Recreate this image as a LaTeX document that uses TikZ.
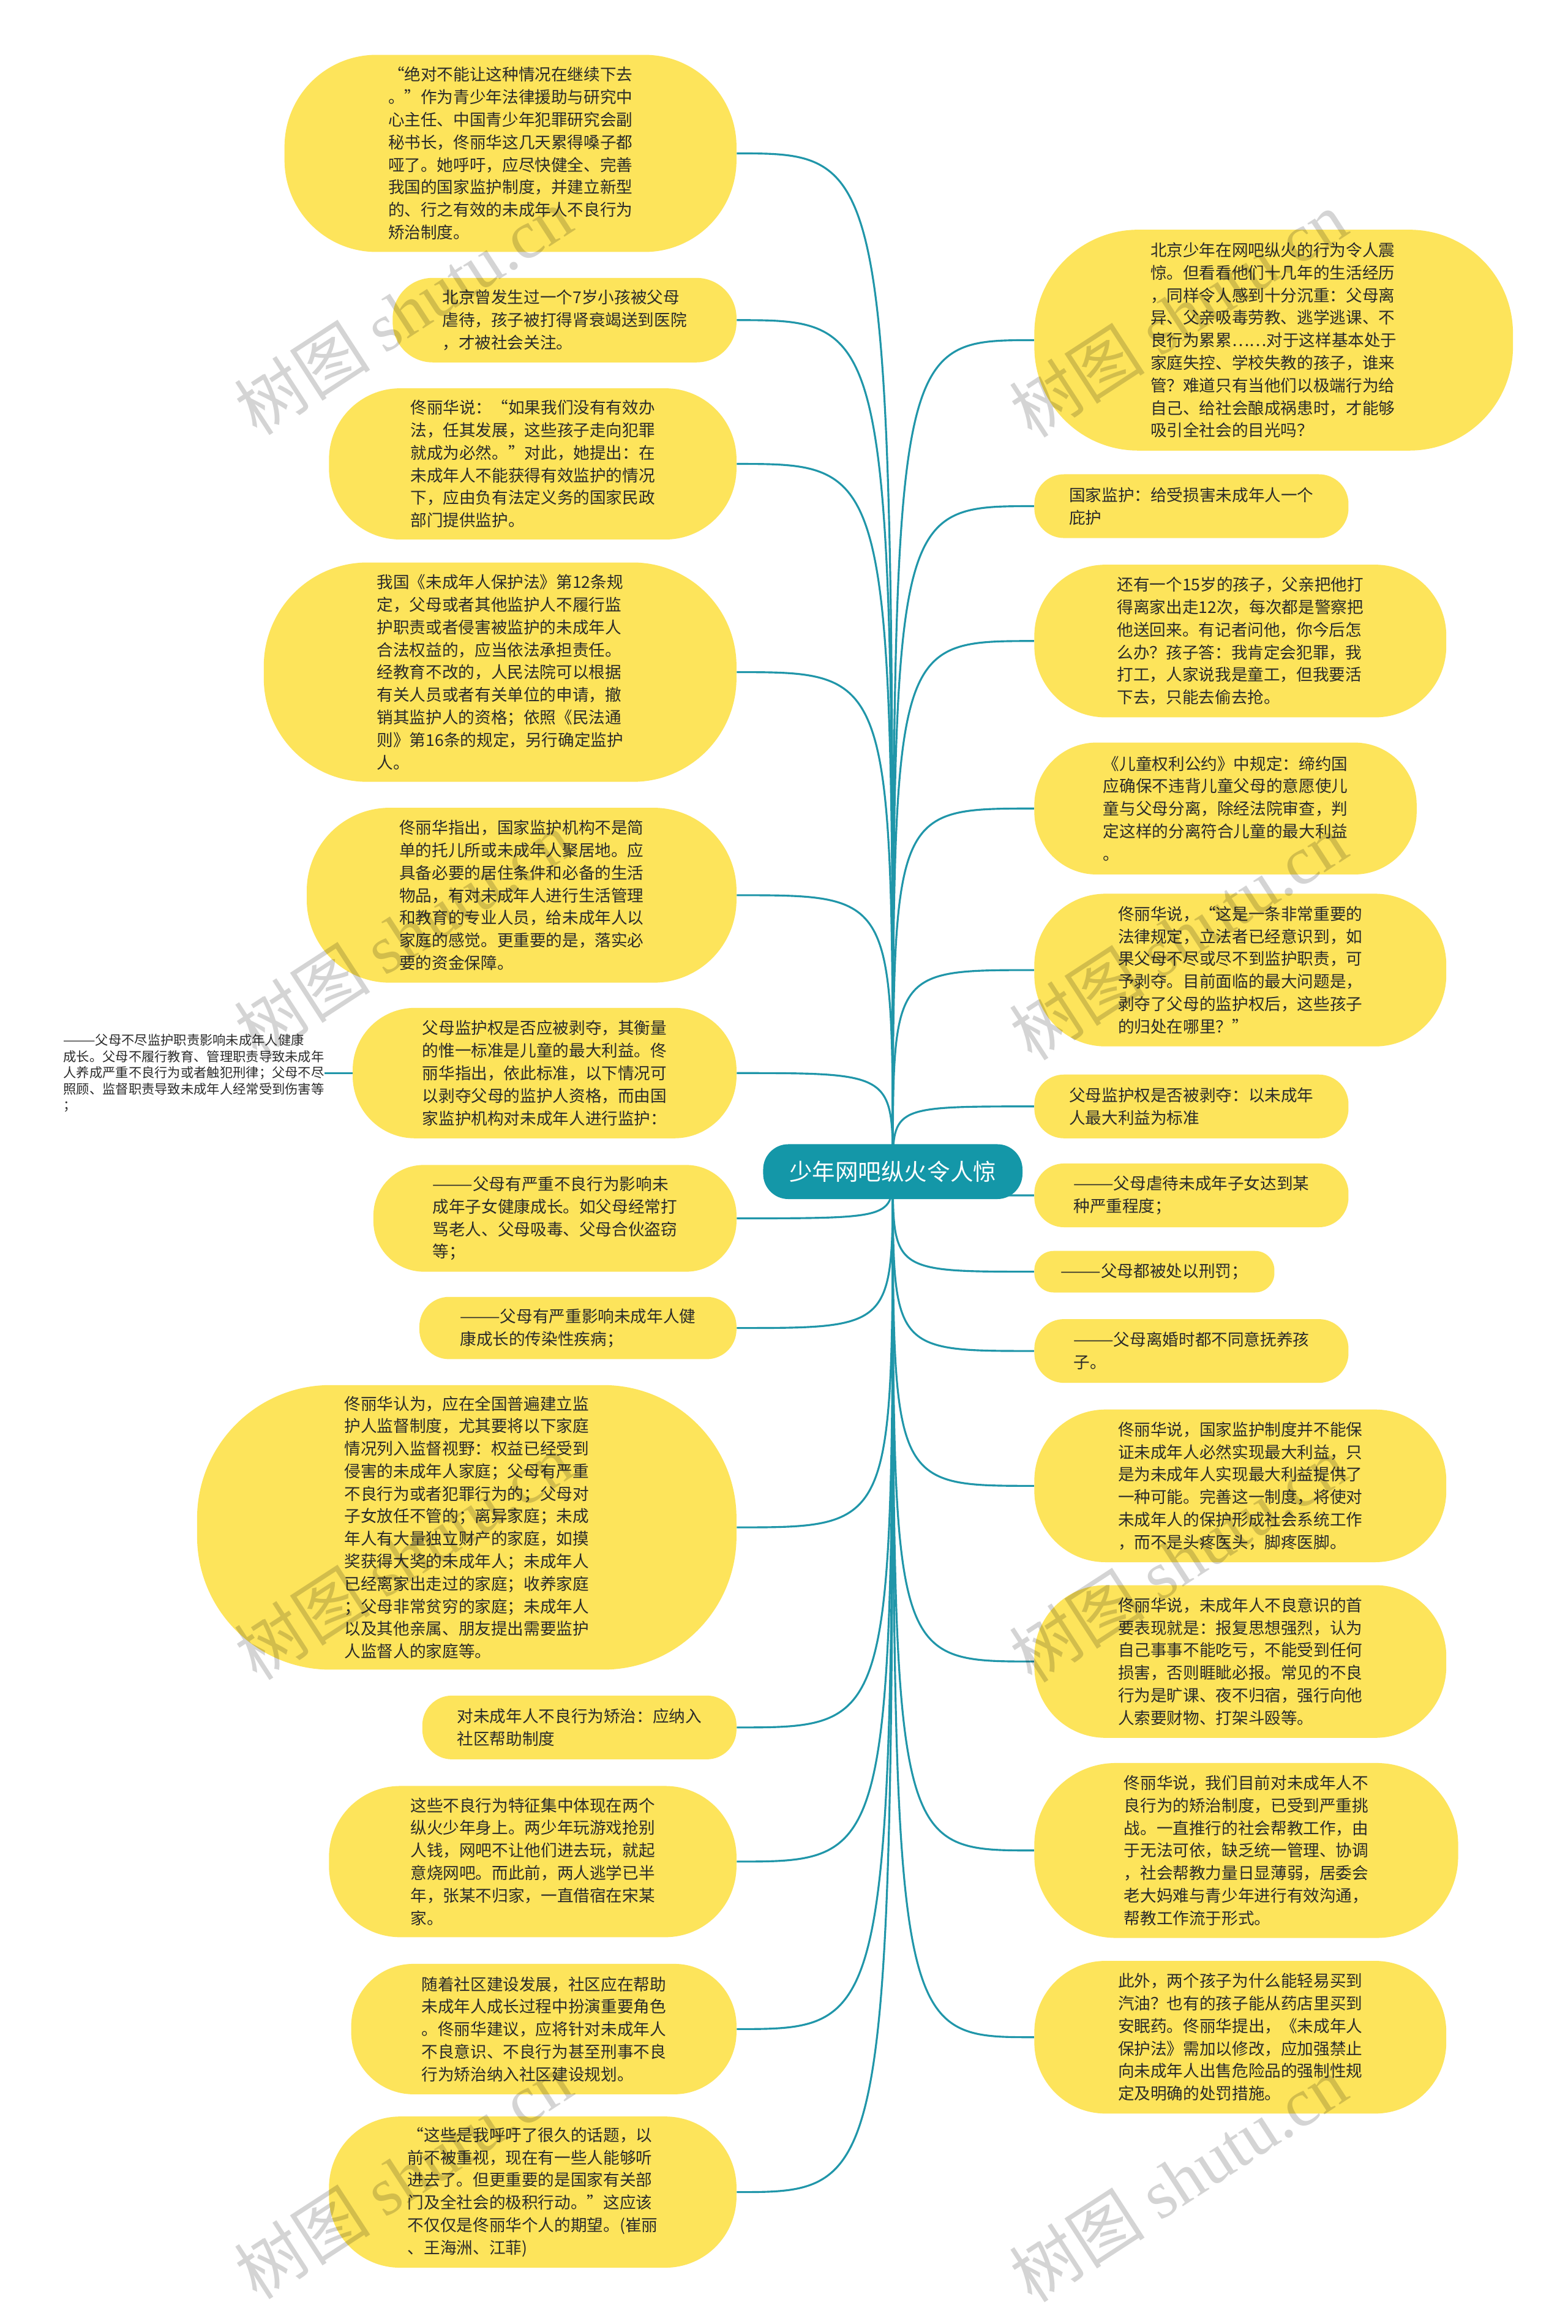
\documentclass[tikz,border=0pt]{standalone}
\usepackage{fontspec}
\setmainfont{Noto Sans CJK SC}
\newfontfamily\wmlatin{Liberation Serif}
\usetikzlibrary{backgrounds}
\definecolor{leafyellow}{HTML}{FDE45B}
\definecolor{mapteal}{HTML}{1497A8}
\definecolor{linkteal}{HTML}{2096A9}
\definecolor{txtdark}{HTML}{2A2A2A}
\tikzset{
  leaf/.style={fill=leafyellow, draw=none, inner sep=0pt, align=left, text=txtdark,
    font=\fontsize{11}{15.2}\selectfont},
  root/.style={fill=mapteal, draw=none, text=white, inner sep=0pt, rounded corners=17,
    font=\fontsize{15.5}{18}\selectfont},
  link/.style={draw=linkteal, line width=1.3pt},
  note/.style={inner sep=0pt, align=left, text=txtdark, font=\fontsize{8.8}{11}\selectfont},
  wmark/.style={text=black, opacity=0.17, rotate=33, inner sep=0pt, font=\fontsize{46}{46}\selectfont}
}
\newcommand{\leafnode}[7]{\node[leaf, minimum width=#4, minimum height=#5, rounded corners=#6] (#1) at (#2,#3) {#7};}
\begin{document}
\begin{tikzpicture}[x=1pt,y=-1pt]
\useasboundingbox (0,0) rectangle (1058,1568);
% root
\node[root, minimum width=175, minimum height=37] (C) at (602.5,790.5) {少年网吧纵火令人惊};
% left column
\leafnode{L1}{344.5}{103.5}{305}{133}{62}{“绝对不能让这种情况在继续下去\\。”作为青少年法律援助与研究中\\心主任、中国青少年犯罪研究会副\\秘书长，佟丽华这几天累得嗓子都\\哑了。她呼吁，应尽快健全、完善\\我国的国家监护制度，并建立新型\\的、行之有效的未成年人不良行为\\矫治制度。}
\leafnode{L2}{381}{216}{232}{57}{27}{北京曾发生过一个7岁小孩被父母\\虐待，孩子被打得肾衰竭送到医院\\，才被社会关注。}
\leafnode{L3}{359.5}{313}{275}{102}{48}{佟丽华说：“如果我们没有有效办\\法，任其发展，这些孩子走向犯罪\\就成为必然。”对此，她提出：在\\未成年人不能获得有效监护的情况\\下，应由负有法定义务的国家民政\\部门提供监护。}
\leafnode{L4}{337.5}{453.5}{319}{148}{70}{我国《未成年人保护法》第12条规\\定，父母或者其他监护人不履行监\\护职责或者侵害被监护的未成年人\\合法权益的，应当依法承担责任。\\经教育不改的，人民法院可以根据\\有关人员或者有关单位的申请，撤\\销其监护人的资格；依照《民法通\\则》第16条的规定，另行确定监护\\人。}
\leafnode{L5}{352}{604}{290}{118}{56}{佟丽华指出，国家监护机构不是简\\单的托儿所或未成年人聚居地。应\\具备必要的居住条件和必备的生活\\物品，有对未成年人进行生活管理\\和教育的专业人员，给未成年人以\\家庭的感觉。更重要的是，落实必\\要的资金保障。}
\leafnode{L6}{367.5}{724}{259}{88}{42}{父母监护权是否应被剥夺，其衡量\\的惟一标准是儿童的最大利益。佟\\丽华指出，依此标准，以下情况可\\以剥夺父母的监护人资格，而由国\\家监护机构对未成年人进行监护：}
\leafnode{L7}{374.5}{822}{245}{72}{34}{———父母有严重不良行为影响未\\成年子女健康成长。如父母经常打\\骂老人、父母吸毒、父母合伙盗窃\\等；}
\leafnode{L8}{390}{896}{214}{42}{20}{———父母有严重影响未成年人健\\康成长的传染性疾病；}
\leafnode{L9}{315}{1030.5}{364}{192}{90}{佟丽华认为，应在全国普遍建立监\\护人监督制度，尤其要将以下家庭\\情况列入监督视野：权益已经受到\\侵害的未成年人家庭；父母有严重\\不良行为或者犯罪行为的；父母对\\子女放任不管的；离异家庭；未成\\年人有大量独立财产的家庭，如摸\\奖获得大奖的未成年人；未成年人\\已经离家出走过的家庭；收养家庭\\；父母非常贫穷的家庭；未成年人\\以及其他亲属、朋友提出需要监护\\人监督人的家庭等。}
\leafnode{L10}{391}{1165.5}{212}{43}{20}{对未成年人不良行为矫治：应纳入\\社区帮助制度}
\leafnode{L11}{359.5}{1256}{275}{102}{48}{这些不良行为特征集中体现在两个\\纵火少年身上。两少年玩游戏抢别\\人钱，网吧不让他们进去玩，就起\\意烧网吧。而此前，两人逃学已半\\年，张某不归家，一直借宿在宋某\\家。}
\leafnode{L12}{367}{1369}{260}{88}{42}{随着社区建设发展，社区应在帮助\\未成年人成长过程中扮演重要角色\\。佟丽华建议，应将针对未成年人\\不良意识、不良行为甚至刑事不良\\行为矫治纳入社区建设规划。}
\leafnode{L13}{359.5}{1479}{275}{102}{48}{“这些是我呼吁了很久的话题，以\\前不被重视，现在有一些人能够听\\进去了。但更重要的是国家有关部\\门及全社会的极积行动。”这应该\\不仅仅是佟丽华个人的期望。(崔丽\\、王海洲、江菲)}
% far-left note
\node[note, anchor=east] (T) at (219,724) {———父母不尽监护职责影响未成年人健康\\成长。父母不履行教育、管理职责导致未成年\\人养成严重不良行为或者触犯刑律；父母不尽\\照顾、监督职责导致未成年人经常受到伤害等\\；};
% right column
\leafnode{R1}{859.5}{229.5}{323}{149}{70}{北京少年在网吧纵火的行为令人震\\惊。但看看他们十几年的生活经历\\，同样令人感到十分沉重：父母离\\异、父亲吸毒劳教、逃学逃课、不\\良行为累累……对于这样基本处于\\家庭失控、学校失教的孩子，谁来\\管？难道只有当他们以极端行为给\\自己、给社会酿成祸患时，才能够\\吸引全社会的目光吗？}
\leafnode{R2}{804}{341.5}{212}{43}{20}{国家监护：给受损害未成年人一个\\庇护}
\leafnode{R3}{837}{432.5}{278}{103}{48}{还有一个15岁的孩子，父亲把他打\\得离家出走12次，每次都是警察把\\他送回来。有记者问他，你今后怎\\么办？孩子答：我肯定会犯罪，我\\打工，人家说我是童工，但我要活\\下去，只能去偷去抢。}
\leafnode{R4}{827}{545.5}{258}{89}{42}{《儿童权利公约》中规定：缔约国\\应确保不违背儿童父母的意愿使儿\\童与父母分离，除经法院审查，判\\定这样的分离符合儿童的最大利益\\。}
\leafnode{R5}{837}{654.5}{278}{103}{48}{佟丽华说，“这是一条非常重要的\\法律规定，立法者已经意识到，如\\果父母不尽或尽不到监护职责，可\\予剥夺。目前面临的最大问题是，\\剥夺了父母的监护权后，这些孩子\\的归处在哪里？”}
\leafnode{R6}{804}{746.5}{212}{43}{20}{父母监护权是否被剥夺：以未成年\\人最大利益为标准}
\leafnode{R7}{804}{806.5}{212}{43}{20}{———父母虐待未成年子女达到某\\种严重程度；}
\leafnode{R8}{779}{858}{162}{28}{13}{———父母都被处以刑罚；}
\leafnode{R9}{804}{911.5}{212}{43}{20}{———父母离婚时都不同意抚养孩\\子。}
\leafnode{R10}{837}{1002.5}{278}{103}{48}{佟丽华说，国家监护制度并不能保\\证未成年人必然实现最大利益，只\\是为未成年人实现最大利益提供了\\一种可能。完善这一制度，将使对\\未成年人的保护形成社会系统工作\\，而不是头疼医头，脚疼医脚。}
\leafnode{R11}{837}{1121}{278}{103}{48}{佟丽华说，未成年人不良意识的首\\要表现就是：报复思想强烈，认为\\自己事事不能吃亏，不能受到任何\\损害，否则睚眦必报。常见的不良\\行为是旷课、夜不归宿，强行向他\\人索要财物、打架斗殴等。}
\leafnode{R12}{841}{1248.5}{286}{118}{55}{佟丽华说，我们目前对未成年人不\\良行为的矫治制度，已受到严重挑\\战。一直推行的社会帮教工作，由\\于无法可依，缺乏统一管理、协调\\，社会帮教力量日显薄弱，居委会\\老大妈难与青少年进行有效沟通，\\帮教工作流于形式。}
\leafnode{R13}{837}{1374.5}{278}{103}{48}{此外，两个孩子为什么能轻易买到\\汽油？也有的孩子能从药店里买到\\安眠药。佟丽华提出，《未成年人\\保护法》需加以修改，应加强禁止\\向未成年人出售危险品的强制性规\\定及明确的处罚措施。}
% connectors
\begin{scope}[on background layer]
  \fill[white] (0,0) rectangle (1058,1568);
  \foreach \n in {L1,L2,L3,L4,L5,L6,L7,L8,L9,L10,L11,L12,L13}
    \draw[link] (C.center) .. controls (C.center |- \n.east) .. (\n.east);
  \foreach \n in {R1,R2,R3,R4,R5,R6,R7,R8,R9,R10,R11,R12,R13}
    \draw[link] (C.center) .. controls (C.center |- \n.west) .. (\n.west);
  \draw[link] (L6.west) -- (T.east);
\end{scope}
% watermarks
\node[wmark] (wm1) at (272,210) {树图 {\wmlatin shutu.cn}};
\node[wmark] (wm2) at (795,212) {树图 {\wmlatin shutu.cn}};
\node[wmark] (wm3) at (272,630) {树图 {\wmlatin shutu.cn}};
\node[wmark] (wm4) at (795,632) {树图 {\wmlatin shutu.cn}};
\node[wmark] (wm5) at (272,1050) {树图 {\wmlatin shutu.cn}};
\node[wmark] (wm6) at (795,1052) {树图 {\wmlatin shutu.cn}};
\node[wmark] (wm7) at (272,1468) {树图 {\wmlatin shutu.cn}};
\node[wmark] (wm8) at (795,1470) {树图 {\wmlatin shutu.cn}};
\end{tikzpicture}
\end{document}
